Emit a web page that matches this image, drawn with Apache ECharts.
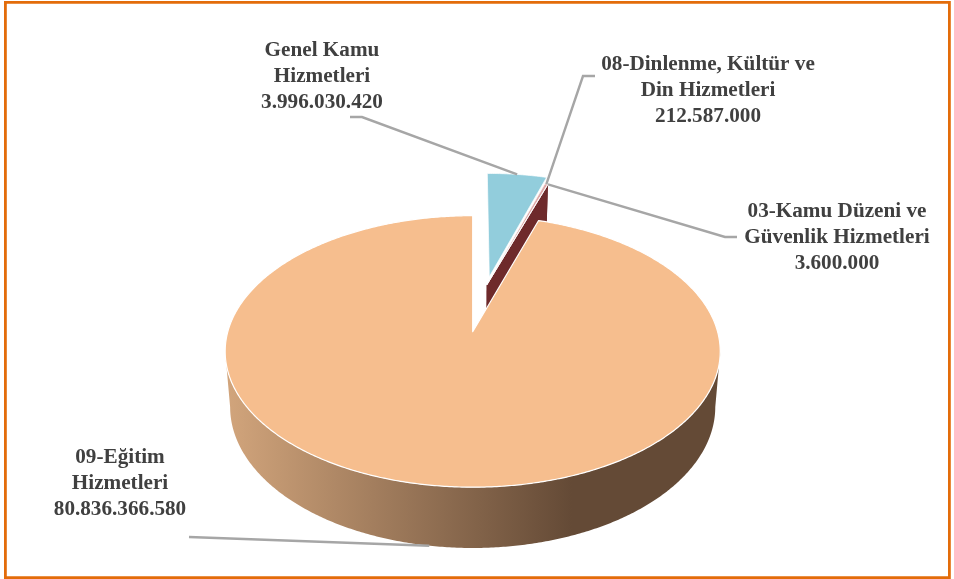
<!DOCTYPE html>
<html><head><meta charset="utf-8">
<style>html,body{margin:0;padding:0;background:#fff}#c{width:954px;height:579px}</style>
<script src="https://cdn.jsdelivr.net/npm/echarts@6/dist/echarts.min.js"></script>
</head><body><div id="c"></div>
<script>
// ---- data ----
const categories = ['Genel Kamu\nHizmetleri', '08-Dinlenme, Kültür ve\nDin Hizmetleri', '03-Kamu Düzeni ve\nGüvenlik Hizmetleri', '09-Eğitim\nHizmetleri'];
const values = [3996030420, 212587000, 3600000, 80836366580];
// ---- styling ----
const topColors = ['#92cddc', '#dfa9a8', '#6e2a2b', '#f6be8e'];
const wallColors = [null, '#6e2a2b', '#6e2a2b', null];
const explodeX = [0.0721, 0.0602, 0.0602, 0];
const explodeY = [-0.44, -0.37, -0.37, 0];
const labelX = [322, 708, 837, 120];
const labelY = [76.5, 91, 238, 484];
const leaderEndX = [350, 595, 737, 189];
const leaderElbowX = [362, 583, 725, 189];
const leaderEndY = [117, 76, 237, 537];

// projection of the tilted disc
const CX = 472.7, CY = 331.7, A = 244.9, B = 132.9, P = 0.1453, D = 54.6, S = 0.98;
function project(X, Y, lower) {
  const w = 1 - P * Y;
  const u = A * X / w, v = B * Y / w;
  return lower ? [CX + S * u, CY + S * v + D / w] : [CX + u, CY + v];
}
function rim(deg, i, lower) {
  const t = deg * Math.PI / 180;
  return project(explodeX[i] + Math.sin(t), explodeY[i] - Math.cos(t), lower);
}
const total = values.reduce((a, b) => a + b, 0);
const starts = [], ends = [];
values.reduce((acc, v, i) => { starts[i] = acc; ends[i] = acc + v / total * 360; return ends[i]; }, 0);
const fmt = v => String(v).replace(/\B(?=(\d{3})+$)/g, '.');
function arc(i, a, b, lower) {
  const pts = [], n = Math.max(2, Math.ceil(Math.abs(b - a) * 2));
  for (let k = 0; k <= n; k++) pts.push(rim(a + (b - a) * k / n, i, lower));
  return pts;
}

function renderItem(params, api) {
  const i = params.dataIndex, kids = [];
  const apex = project(explodeX[i], explodeY[i], false);
  const apexLow = project(explodeX[i], explodeY[i], true);
  if (i === 3) {
    // visible outer wall of the large slice
    const a = 98.4, b = 261.6;
    kids.push({
      type: 'polygon', z2: 1,
      shape: { points: arc(i, a, b, false).concat(arc(i, b, a, true)) },
      style: { fill: new echarts.graphic.LinearGradient(0, 0, 1, 0, [
        { offset: 0, color: '#d2a57c' }, { offset: 0.7, color: '#644a36' }, { offset: 1, color: '#644a36' }
      ]) }
    });
  } else if (wallColors[i]) {
    const e = ends[i];
    kids.push({
      type: 'polygon', z2: 1,
      shape: { points: [apex, rim(e, i, false), rim(e, i, true), apexLow] },
      style: { fill: wallColors[i] }
    });
  }
  kids.push({
    type: 'polygon', z2: 2,
    shape: { points: [apex].concat(arc(i, starts[i], ends[i], false)) },
    style: { fill: topColors[i], stroke: '#fff', lineWidth: i === 3 ? 1.2 : 0.7, lineJoin: 'round' }
  });
  // leader line anchored at the slice's mid-angle on the rim
  const mid = (starts[i] + ends[i]) / 2;
  const anchor = rim(mid, i, i === 3);
  const leader = i === 3
    ? [[leaderEndX[i], leaderEndY[i]], anchor]
    : [[leaderEndX[i], leaderEndY[i]], [leaderElbowX[i], leaderEndY[i]], anchor];
  kids.push({
    type: 'polyline', z2: 5,
    shape: { points: leader },
    style: { fill: null, stroke: '#a6a6a6', lineWidth: 2.4 }
  });
  kids.push({
    type: 'text', z2: 6,
    style: {
      text: categories[i] + '\n' + fmt(values[i]),
      x: labelX[i], y: labelY[i], align: 'center', verticalAlign: 'middle',
      fill: '#404040', fontFamily: '"Liberation Serif", serif', fontWeight: 'bold',
      fontSize: 21.2, lineHeight: 26
    }
  });
  return { type: 'group', children: kids };
}

const chart = echarts.init(document.getElementById('c'), null, { renderer: 'canvas' });
chart.setOption({
  animation: false,
  backgroundColor: '#ffffff',
  graphic: [{
    type: 'rect', silent: true, z: -1,
    shape: { x: 5.4, y: 2.4, width: 944, height: 575.2 },
    style: { fill: '#fff', stroke: '#e36c0a', lineWidth: 2.8 }
  }],
  series: [{
    type: 'custom',
    coordinateSystem: 'none',
    renderItem,
    clip: false,
    data: values.map((v, i) => ({ name: categories[i], value: v }))
  }]
});
</script></body></html>
